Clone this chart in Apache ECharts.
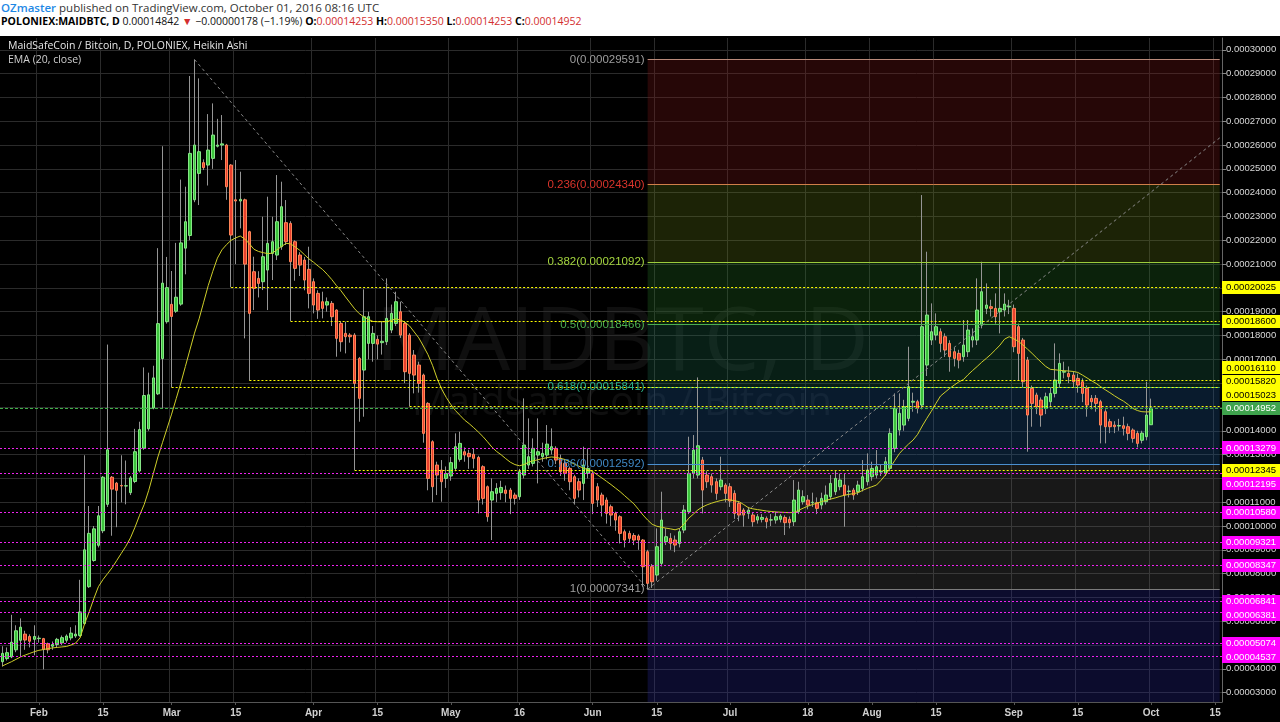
<!DOCTYPE html>
<html>
<head>
<meta charset="utf-8">
<script src="https://cdn.jsdelivr.net/npm/echarts/dist/echarts.min.js"></script>
<style>
html,body{margin:0;padding:0;background:#fff;width:1280px;height:722px;overflow:hidden;}
#hdr{position:absolute;left:0;top:0;width:1280px;height:36px;background:#fff;font-family:"Open Sans","Noto Sans",sans-serif;color:#333;}
#hdr .l1{position:absolute;left:1px;top:0px;font-size:11.5px;line-height:16px;white-space:nowrap;}
#hdr .l2{position:absolute;left:1px;top:13px;font-size:10.5px;line-height:16px;white-space:nowrap;color:#111;}
#hdr .oz{color:#1e88e5;font-weight:600;}
#hdr .r{color:#d32f2f;}
#hdr b{font-weight:700;color:#000;}
#chart{position:absolute;left:0;top:36px;width:1280px;height:686px;background:#000;}
</style>
</head>
<body>
<div id="hdr">
  <div class="l1"><span class="oz">OZmaster</span> published on TradingView.com, October 01, 2016 08:16 UTC</div>
  <div class="l2"><b>POLONIEX:MAIDBTC, D</b> 0.00014842 <span class="r">▼</span> −0.00000178 (−1.19%) <b>O:</b><span class="r">0.00014253</span> <b>H:</b><span class="r">0.00015350</span> <b>L:</b><span class="r">0.00014253</span> <b>C:</b><span class="r">0.00014952</span></div>
</div>
<div id="chart"></div>
<script>
// ---------- DATA (prices in satoshi, 1e-8 BTC) ----------
const startDate = '2016-01-24';
const dayCount = 267; // Jan 24 .. Oct 16 (axis range)

const open = [4300,4430,4500,4800,5200,5460,5360,5240,5270,5270,5060,4950,5020,5090,5200,5300,5380,5400,5900,7450,
8550,9190,9800,10910,12050,11800,11700,11680,11400,11870,12310,13270,14080,14960,15550,17030,18580,19310,19020,19320,
21670,22200,23700,24810,25260,25160,25440,25950,26000,26000,25160,23700,23650,23700,22360,20680,20400,20260,20750,21450,
21380,21730,22740,22710,21940,21380,21170,20780,20260,19770,19420,19280,19350,19070,18510,18090,18020,18020,17040,16550,
17670,17670,17840,17700,17740,18230,18510,19000,18510,18020,17180,16760,16340,15150,13540,12560,12350,12000,12100,12420,
12800,13120,13050,13010,12880,12490,11650,11090,11370,11400,11510,11510,11300,11230,12140,12560,12630,12980,12910,12980,
13190,13260,12840,12630,12420,12070,11860,11790,12210,12210,11650,11300,11090,10810,10530,10390,9760,9690,9600,9580,
9410,8920,8290,7940,8430,9340,9480,9410,9270,9830,10600,12210,12140,12770,12140,12070,11860,11650,11720,11650,
11370,10950,10670,10530,10460,10250,10280,10320,10250,10250,10280,10360,10280,10180,10600,11020,11090,10980,10980,10880,
11020,11230,11440,11650,11720,11450,11510,11440,11580,11860,12070,12140,12270,12210,12420,13260,14030,14240,14520,15200,
15220,15080,16760,17810,18020,18160,17950,17670,17320,17250,17110,17320,17810,17810,18440,19140,19210,19140,19000,19070,
19200,19140,18370,17810,16970,15780,15500,15290,14940,15220,15570,15990,16460,16410,16340,16200,16060,15780,15360,15360,
15220,14800,14380,14240,14200,14210,14170,14030,13890,13600,13750,14253];

const close = [4650,4680,5120,5600,5750,5210,5160,5360,5290,4820,4800,5020,5240,5310,5380,5500,5460,6390,9000,9690,
9880,10430,12050,13200,11550,11500,11680,11690,12020,13120,14050,15480,15510,16220,18500,20200,20010,18800,19610,21890,
22780,25650,26000,25720,25050,25790,26420,26000,26050,24250,22220,23650,23720,21000,18930,19980,20190,21310,21870,21940,
22780,23410,21940,21100,20820,20960,20330,19770,19280,19070,19140,19420,18790,17880,17740,17950,17950,15990,15360,18790,
18790,18090,17640,17760,18720,18930,19420,18020,16480,16410,16340,15990,13890,12000,11650,12140,11860,12200,12660,13330,
13470,12980,12910,12840,11090,11160,10390,11440,11580,11620,11370,11160,11160,12280,13400,12910,13260,13120,13050,13440,
13330,12770,12280,12210,11860,11160,11510,12560,12420,10950,11090,10880,10530,10460,10250,9690,9410,9480,9410,9410,
8290,7590,7660,9130,10250,9550,9270,9200,9760,10670,12210,13190,13370,11510,11860,11720,11370,11930,11370,11050,
10530,10460,10460,10670,10180,10390,10360,10180,10260,10390,10420,10140,10140,11090,11510,11230,10880,11000,10740,11160,
11300,11790,12000,11930,11300,11470,11300,11720,12070,12350,12420,12490,12300,12700,13890,14940,14730,15010,15850,15240,
14940,18370,18860,18160,18370,17670,17390,17110,17040,16970,17600,18230,17950,19070,19840,19280,19140,18790,19140,19320,
19230,17530,17250,16060,14660,15150,15010,14660,15430,15570,16130,16830,16500,16270,16060,15920,15570,15080,15220,15150,
14240,14170,14170,14170,14220,14100,13890,13680,13470,13900,14660,14952];

const low = [4100,4350,4450,4700,4500,4800,4900,4570,5100,3980,4650,4800,4900,5000,5100,5200,5300,5350,5850,7400,
8500,9100,9700,10800,9590,9950,10990,10910,11300,11800,12250,13200,14000,14900,15500,14960,18500,15820,18950,19250,
20570,22000,23600,23480,24950,24300,25000,25900,25370,23700,20025,21000,22500,17880,16110,19070,19600,19910,19070,20330,
21170,21600,21800,18600,20300,20500,19900,19140,18930,18700,18720,19000,18400,17110,17320,17250,17700,12345,14380,14590,
17000,16900,17000,17200,17600,18100,18400,17900,16000,15023,15570,15600,13500,11500,11000,11300,11020,11600,11900,12300,
12700,12700,12400,12420,10530,10900,10180,9410,11000,11100,11000,10500,10900,11100,12000,12400,12500,11790,12700,12800,
13000,12600,12100,11900,11500,10900,11200,11090,12000,10500,10800,10400,10100,10000,9800,9270,9100,9300,9200,9000,
7450,7341,7400,7700,8300,9200,9000,8900,9100,9700,10500,12000,12000,10530,11600,11400,11100,11500,11000,10800,
10300,10200,9970,10300,9970,10100,10150,9900,10000,10100,10150,9620,9900,10000,10500,10900,10700,10800,10500,10700,
10900,11100,11300,11500,9970,11200,11100,11300,11450,11700,11900,12000,12100,12100,12300,13100,13800,14000,14400,14800,
14730,14900,16300,17600,17800,17300,17100,16480,16700,16620,16900,17100,17500,17600,18300,18900,18800,18500,18090,18800,
18900,17300,16130,15800,13120,14170,14700,14170,14700,15000,15400,15800,16200,16000,15800,15600,15200,14590,14900,14800,
13470,13470,13900,13900,14000,13800,13600,13500,13300,13470,13600,14253];

const high = [4950,4900,6270,5830,6120,5600,5450,5830,5400,5300,5100,5150,5300,5400,5450,5750,5830,7740,12970,10840,
10000,10840,12100,17620,12100,11850,12970,12750,12100,14080,14380,16660,16440,16730,21670,25950,21300,20710,21890,24550,
24250,28900,29591,28800,25400,27300,27750,27100,27260,26050,25200,25370,24880,23750,22400,21310,20700,22990,23830,22990,
24740,24460,23690,22800,22000,21500,21300,21730,20400,19900,19840,19600,19450,19100,18600,18580,18100,18100,17100,19940,
19000,18400,18000,18600,20400,19300,19840,19420,18600,18100,17390,16900,16400,15200,13600,12700,12770,12500,12900,13890,
13960,13300,13200,13260,12950,12550,11700,12000,11800,11900,11700,11600,11400,12400,15360,14520,13680,14520,13500,14240,
14100,13350,13000,12800,12500,12150,12000,13330,13260,12300,11800,11400,11200,10900,10600,10450,9850,9800,9700,9650,
9450,9000,8400,9900,11440,9900,9700,9600,9900,10880,13750,13820,16240,12900,12300,12200,12000,12910,11800,11800,
11500,11050,10750,10800,10550,10500,10500,10400,10500,10600,10500,10450,10400,11930,11860,11500,11300,11400,11200,11400,
11700,12140,12350,12200,12210,11700,11600,11900,12770,13050,12700,13190,12600,12900,14100,15570,15570,15300,17530,15600,
15300,23900,21520,19350,18930,18300,18090,17800,17500,17400,18650,18650,18300,20400,21100,20190,19500,19770,21030,19770,
19500,19300,18500,17900,17100,15900,15600,15400,15600,15800,17670,17250,16900,16700,16500,16400,16200,15900,15500,15500,
15300,14900,14500,14400,14500,14590,14300,14100,14000,14000,16060,15350];

const ema = [4120,4210,4300,4400,4500,4580,4650,4720,4780,4810,4850,4880,4900,4920,4940,5000,5080,5300,5900,6400,
6950,7450,7750,8000,8250,8550,8850,9150,9500,9950,10450,10900,11500,12200,12900,13500,14100,14700,15350,16000,
16700,17400,18100,18700,19400,20100,20700,21250,21600,21820,22000,22100,22180,22050,21850,21620,21530,21480,21440,21460,
21600,21740,21870,21850,21720,21580,21400,21220,21080,20920,20770,20570,20350,20100,19880,19620,19370,19120,18920,18780,
18680,18590,18580,18580,18580,18640,18700,18650,18560,18400,18150,17900,17560,17200,16750,16200,15750,15400,15100,14850,
14650,14450,14300,14130,13950,13760,13540,13310,13130,12990,12830,12680,12580,12530,12580,12680,12740,12780,12830,12870,
12900,12880,12840,12790,12700,12600,12510,12430,12360,12290,12150,12020,11880,11740,11590,11440,11270,11100,10930,10700,
10460,10250,10070,9990,9950,9910,9880,9840,9900,10090,10330,10500,10680,10800,10890,10960,11020,11070,11110,11100,
11060,11020,10900,10770,10720,10690,10660,10630,10610,10590,10580,10570,10560,10570,10660,10750,10830,10900,10960,11020,
11080,11130,11180,11240,11290,11330,11360,11400,11500,11580,11650,11720,11920,12150,12450,12750,13040,13250,13440,13610,
13850,14200,14520,14820,15150,15460,15620,15780,15920,16050,16150,16350,16530,16700,16880,17040,17210,17400,17600,17850,
17950,17860,17760,17600,17430,17250,17060,16880,16700,16580,16560,16540,16520,16510,16490,16450,16340,16220,16100,15990,
15850,15720,15600,15470,15350,15240,15100,14940,14850,14800,14790,14800];

const tickDates  = ['2016-02-01','2016-02-15','2016-03-01','2016-03-15','2016-04-01','2016-04-15','2016-05-01','2016-05-16','2016-06-01',
                    '2016-06-15','2016-07-01','2016-07-18','2016-08-01','2016-08-15','2016-09-01','2016-09-15','2016-10-01','2016-10-15'];
const tickLabels = ['Feb','15','Mar','15','Apr','15','May','16','Jun','15','Jul','18','Aug','15','Sep','15','Oct','15'];

const fibLevels = ['0','0.236','0.382','0.5','0.618','0.786','1'];
const fibValues = [29591,24340,21092,18466,15841,12592,7341];
const fibLineColors  = ['#b98a7a','#cf7f4a','#9ccc3c','#4caf50','#2aa882','#4a8fd0','#7a7a7a'];
const fibLabelColors = ['#9e9e9e','#d9342b','#a5d63f','#4caf50','#2bb38a','#3f88c5','#9e9e9e'];
const fibFillColors  = ['rgba(125,22,22,0.30)','rgba(100,125,22,0.28)','rgba(40,125,40,0.27)','rgba(30,115,80,0.27)',
                        'rgba(30,90,150,0.30)','rgba(110,110,110,0.22)','rgba(40,40,150,0.30)'];
const fibHighDate = '2016-03-06';
const fibLowDate  = '2016-06-13';
const trendEndValue = 26300;

const yellowLevels = [20025,18600,16110,15820,15023,12345];
const yellowStarts = ['2016-03-14','2016-03-27','2016-03-18','2016-03-01','2016-04-22','2016-04-10'];
const magentaLevels = [13279,12195,10580,9321,8347,6841,6381,5074,4537];
const lastClose = 14952;

const yMin = 2608, yMax = 30496;
const yTicks = []; for (let v = 3000; v <= 30000; v += 1000) yTicks.push(v);

// ---------- BUILD ----------
const categories = [];
const t0 = Date.parse(startDate + 'T00:00:00Z');
for (let i = 0; i < dayCount; i++) categories.push(new Date(t0 + i * 86400000).toISOString().slice(0, 10));
const lastCat = categories[categories.length - 1];
const tickMap = {}; tickDates.forEach((d, k) => tickMap[d] = tickLabels[k]);
const isTick = (idx, val) => tickMap[categories[idx]] !== undefined;
const fmt = v => (v / 1e8).toFixed(8);

const wickData = open.map((o, i) => [o, close[i], low[i], high[i]]);
const bodyData = open.map((o, i) => [o, close[i], Math.min(o, close[i]), Math.max(o, close[i])]);

const fibAreas = fibValues.map((v, k) => {
  const next = k + 1 < fibValues.length ? fibValues[k + 1] : yMin;
  return [{ coord: [fibLowDate, v], itemStyle: { color: fibFillColors[k] } }, { coord: [lastCat, next] }];
});
const fibLines = fibValues.map((v, k) => [
  { coord: [fibLowDate, v], lineStyle: { color: fibLineColors[k], type: 'solid', width: 1 },
    label: { show: true, position: 'start', distance: 3, color: fibLabelColors[k], fontSize: 11.5,
             fontFamily: 'Liberation Sans, Arial', formatter: fibLevels[k] + '(' + fmt(v) + ')' } },
  { coord: [lastCat, v] }
]);
const yellowLines = yellowLevels.map((v, k) => [{ coord: [yellowStarts[k], v] }, { coord: [lastCat, v] }]);

const chart = echarts.init(document.getElementById('chart'), null, { renderer: 'canvas' });
const option = {
  animation: false,
  backgroundColor: '#000',
  grid: { left: 0, right: 58, top: 2, bottom: 20, containLabel: false },
  xAxis: {
    type: 'category', data: categories, boundaryGap: true,
    axisLine: { show: true, lineStyle: { color: '#555' } },
    axisTick: { show: true, interval: isTick, alignWithLabel: true, length: 3, lineStyle: { color: '#555' } },
    axisLabel: { interval: isTick, formatter: v => tickMap[v] || '', color: '#d0d0d0', fontSize: 10, fontWeight: 'bold',
                 fontFamily: 'Liberation Sans, Arial', margin: 6 },
    splitLine: { show: true, interval: isTick, lineStyle: { color: '#2b2b2b', width: 1 } }
  },
  yAxis: {
    type: 'value', position: 'right', min: yMin, max: yMax, scale: true,
    axisLine: { show: true, lineStyle: { color: '#666' } },
    axisTick: { show: true, customValues: yTicks, length: 4, lineStyle: { color: '#888' } },
    axisLabel: { customValues: yTicks, formatter: fmt, color: '#d8d8d8', fontSize: 9.5, fontFamily: 'Liberation Sans, Arial', margin: 4 },
    splitLine: { show: true, lineStyle: { color: '#2b2b2b', width: 1 } }
  },
  series: [
    { // fib zone fills (under candles)
      name: 'fibfill', type: 'line', data: [], z: 1, silent: true,
      markArea: { silent: true, data: fibAreas }
    },
    { // wicks
      name: 'wick', type: 'candlestick', data: wickData, barWidth: 1, z: 2,
      itemStyle: { color: '#959595', color0: '#959595', borderColor: '#959595', borderColor0: '#959595', borderWidth: 1 }
    },
    { // bodies
      name: 'body', type: 'candlestick', data: bodyData, barWidth: 3, z: 3,
      itemStyle: { color: '#3cc43c', color0: '#e8402e', borderColor: '#86e686', borderColor0: '#ff8558', borderWidth: 1 }
    },
    { // EMA 20
      name: 'EMA (20, close)', type: 'line', data: ema, symbol: 'none', z: 4,
      lineStyle: { color: '#cfcf2a', width: 1 }
    },
    { // drawings
      name: 'drawings', type: 'line', data: [], z: 5, silent: true,
      markLine: {
        silent: true, symbol: ['none', 'none'], animation: false,
        label: { show: false },
        data: [
          ...fibLines,
          ...magentaLevels.map(v => ({ yAxis: v, lineStyle: { color: '#ee22ee', type: [2, 2], width: 1 } })),
          ...yellowLines.map(p => [Object.assign({ lineStyle: { color: '#ffff00', type: [2, 2], width: 1 } }, p[0]), p[1]]),
          { yAxis: lastClose, lineStyle: { color: '#3faf49', type: [3, 2], width: 1 } },
          [{ coord: [fibHighDate, fibValues[0]], lineStyle: { color: '#8a8a8a', type: [3, 3], width: 1 } }, { coord: [fibLowDate, fibValues[6]] }],
          [{ coord: [fibLowDate, fibValues[6]], lineStyle: { color: '#8a8a8a', type: [3, 3], width: 1 } }, { coord: [lastCat, trendEndValue] }]
        ]
      }
    }
  ],
  graphic: [
    { id: 'wm1', type: 'text', x: 622, y: 309, z: 0, silent: true,
      style: { text: 'MAIDBTC, D', fill: 'rgba(255,255,255,0.06)', font: '88px "Open Sans"', align: 'center', verticalAlign: 'middle' } },
    { id: 'wm2', type: 'text', x: 622, y: 368, z: 0, silent: true,
      style: { text: 'MaidSafeCoin / Bitcoin', fill: 'rgba(255,255,255,0.06)', font: '40px "Open Sans"', align: 'center', verticalAlign: 'middle' } },
    { id: 't1', type: 'text', x: 8, y: 5, z: 10, silent: true,
      style: { text: 'MaidSafeCoin / Bitcoin, D, POLONIEX, Heikin Ashi', fill: '#e6e6e6', font: '10.5px "Open Sans"' } },
    { id: 't2', type: 'text', x: 8, y: 19, z: 10, silent: true,
      style: { text: 'EMA (20, close)', fill: '#cfcfcf', font: '10.5px "Open Sans"' } }
  ]
};
chart.setOption(option);

// ---------- right-axis price tags (stacked to avoid overlap) ----------
const tags = [
  ...yellowLevels.map(v => ({ v, bg: '#ffff00', fg: '#000' })),
  ...magentaLevels.map(v => ({ v, bg: '#ff00ff', fg: '#fff' }))
];
const anchorY = chart.convertToPixel({ yAxisIndex: 0 }, lastClose);
tags.forEach(t => t.y = chart.convertToPixel({ yAxisIndex: 0 }, t.v));
const gap = 13.5;
const above = tags.filter(t => t.y <= anchorY).sort((a, b) => b.y - a.y);
let prev = anchorY;
above.forEach(t => { t.y = Math.min(t.y, prev - gap); prev = t.y; });
const below = tags.filter(t => t.y > anchorY).sort((a, b) => a.y - b.y);
prev = anchorY;
below.forEach(t => { t.y = Math.max(t.y, prev + gap); prev = t.y; });
tags.push({ v: lastClose, bg: '#3fa34d', fg: '#fff', y: anchorY });
const gx = 1280 - 58;
const tagGraphics = [];
tags.forEach((t, k) => {
  tagGraphics.push({ id: 'tagr' + k, type: 'rect', z: 20, silent: true,
    shape: { x: gx, y: Math.round(t.y - 6.5), width: 58, height: 13 }, style: { fill: t.bg } });
  tagGraphics.push({ id: 'tagt' + k, type: 'text', z: 21, silent: true, x: gx + 29, y: Math.round(t.y),
    style: { text: fmt(t.v), fill: t.fg, font: '9.5px "Liberation Sans", Arial', align: 'center', verticalAlign: 'middle' } });
});
chart.setOption({ graphic: tagGraphics });
</script>
</body>
</html>
